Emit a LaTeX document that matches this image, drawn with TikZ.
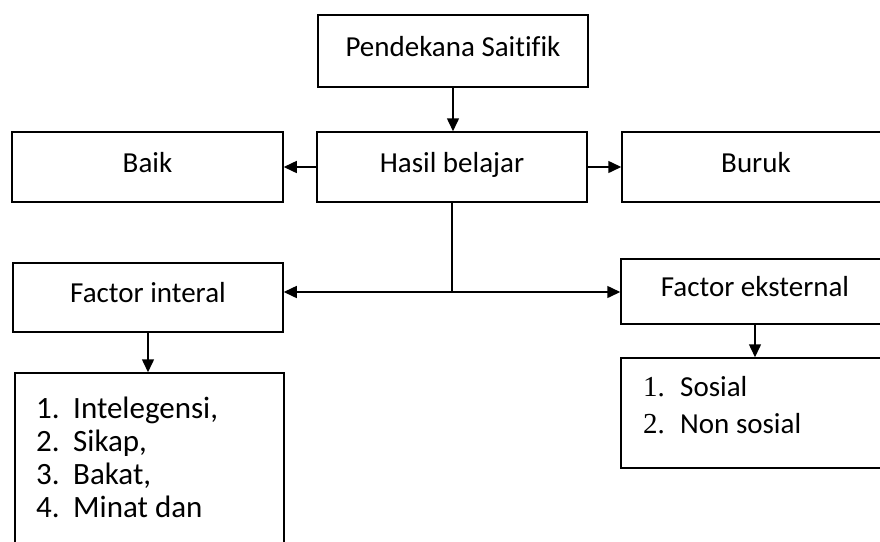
\documentclass[tikz,border=0pt]{standalone}
\usepackage{fontspec}
\setmainfont{Carlito}[Ligatures=NoCommon]
\newfontfamily\serifnum{Liberation Serif}
\usetikzlibrary{arrows.meta}
\begin{document}
\begin{tikzpicture}[x=1pt,y=-1pt,
  box/.style={draw, line width=1.5pt, rectangle, inner sep=0pt, text height=20pt, text depth=10pt, font=\fontsize{29}{34}\selectfont},
  txt/.style={inner sep=0pt, anchor=base west, font=\fontsize{31}{36}\selectfont},
  rtxt/.style={inner sep=0pt, anchor=base west, font=\fontsize{29}{34}\selectfont},
  con/.style={line width=1.5pt},
  arr/.style={line width=1.5pt, -{Triangle[length=13pt,width=12pt]}}]
\useasboundingbox (0,0) rectangle (880,541);
\clip (0,0) rectangle (880,541);
\node[box, minimum width=270, minimum height=72] (pend) at (453,51) {Pendekana Saitifik};
\node[box, minimum width=270, minimum height=70] (hasil) at (452,167) {Hasil belajar};
\node[box, minimum width=271, minimum height=70] (baik) at (147.5,167) {Baik};
\node[box, minimum width=268, minimum height=70] (buruk) at (756,167) {Buruk};
\node[box, minimum width=270, minimum height=69] (fint) at (148,297.5) {Factor interal};
\node[box, minimum width=268, minimum height=65] (fext) at (755,291.5) {Factor eksternal};
\node[box, minimum width=269, minimum height=207] (lint) at (149.5,476.5) {};
\node[box, minimum width=268, minimum height=110] (lext) at (755,413) {};
\coordinate (j) at (453,292);
\draw[arr] (pend.south) -- (pend.south |- hasil.north);
\draw[arr] (hasil.west) -- (baik.east);
\draw[arr] (hasil.east) -- (buruk.west);
\draw[con] (hasil.south) -- (hasil.south |- j);
\draw[arr] (j) -- (fint.east |- j);
\draw[arr] (j) -- (fext.west |- j);
\draw[arr] (fint.south) -- (fint.south |- lint.north);
\draw[arr] (fext.south) -- (fext.south |- lext.north);
% left list
\node[txt] (n1) at (36,418) {1.};
\node[txt] (t1) at (73,418) {Intelegensi,};
\node[txt] (n2) at (36,451) {2.};
\node[txt] (t2) at (73,451) {Sikap,};
\node[txt] (n3) at (36,484) {3.};
\node[txt] (t3) at (73,484) {Bakat,};
\node[txt] (n4) at (36,517) {4.};
\node[txt] (t4) at (73,517) {Minat dan};
% right list
\node[rtxt, font=\fontsize{29}{34}\serifnum] (m1) at (643,396) {1.};
\node[rtxt] (s1) at (680,396) {Sosial};
\node[rtxt, font=\fontsize{29}{34}\serifnum] (m2) at (643,433) {2.};
\node[rtxt] (s2) at (680,433) {Non sosial};
\end{tikzpicture}
\end{document}
